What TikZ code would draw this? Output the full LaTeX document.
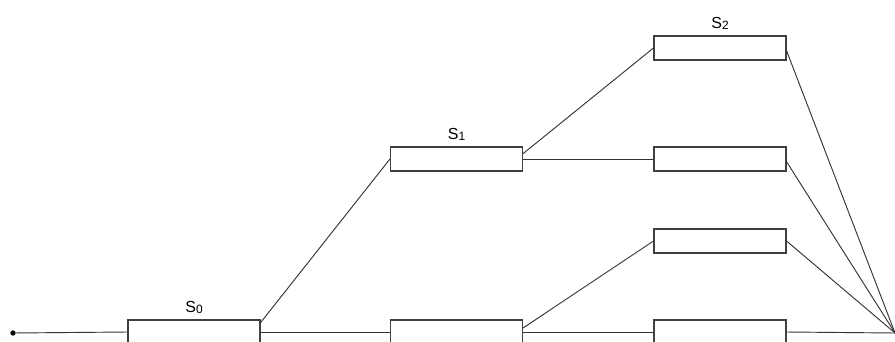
\documentclass[tikz,border=0pt]{standalone}
\usepackage{fontspec}
\setmainfont{Liberation Sans}
\usepackage{tikz}
\usetikzlibrary{positioning,calc}
\tikzset{
  etapa/.style={rectangle, draw=black!75, line width=0.8pt, fill=white,
                minimum width=99pt, minimum height=18pt, inner sep=0pt},
  rotulo/.style={font=\fontsize{12}{13}\selectfont, label distance=1pt},
  enlace/.style={draw=black!80, line width=0.7pt},
  nudo/.style={circle, fill=black, inner sep=0pt, minimum size=4pt}
}
\newcommand{\subS}[1]{S\raisebox{-0.5pt}{\fontsize{9}{10}\selectfont #1}}
\begin{document}
\begin{tikzpicture}[x=0.75pt, y=-0.75pt]
  \clip (0,0) rectangle (895,342);
  \useasboundingbox (0,0) rectangle (895,342);
  \node[nudo] (ini) at (13,333) {};
  \node[etapa, label={[rotulo]above:\subS{0}}] (s0) at (194,332) {};
  \node[etapa] (m0) at (456.5,332) {};
  \node[etapa, label={[rotulo]above:\subS{1}}] (s1) at (456.5,159) {};
  \node[etapa, label={[rotulo]above:\subS{2}}] (r1) at (720,48) {};
  \node[etapa] (r2) at (720,159) {};
  \node[etapa] (r3) at (720,241) {};
  \node[etapa] (r4) at (720,332) {};
  \coordinate (fin) at (895,333);

  \draw[enlace] (ini)--(s0.west); \draw[enlace] (s0.east)--(m0.west);
  \draw[enlace] ([yshift=7pt]s0.east)--(s1.west);
  \draw[enlace] ([yshift=4pt]s1.east)--(r1.west);
  \draw[enlace] (s1.east)--(r2.west);
  \draw[enlace] ([yshift=3pt]m0.east)--(r3.west);
  \draw[enlace] (m0.east)--(r4.west);
  \draw[enlace] ([yshift=-2pt]r1.east)--(fin); \draw[enlace] ([yshift=-2pt]r2.east)--(fin);
  \draw[enlace] (r3.east)--(fin); \draw[enlace] (r4.east)--(fin);
\end{tikzpicture}
\end{document}
